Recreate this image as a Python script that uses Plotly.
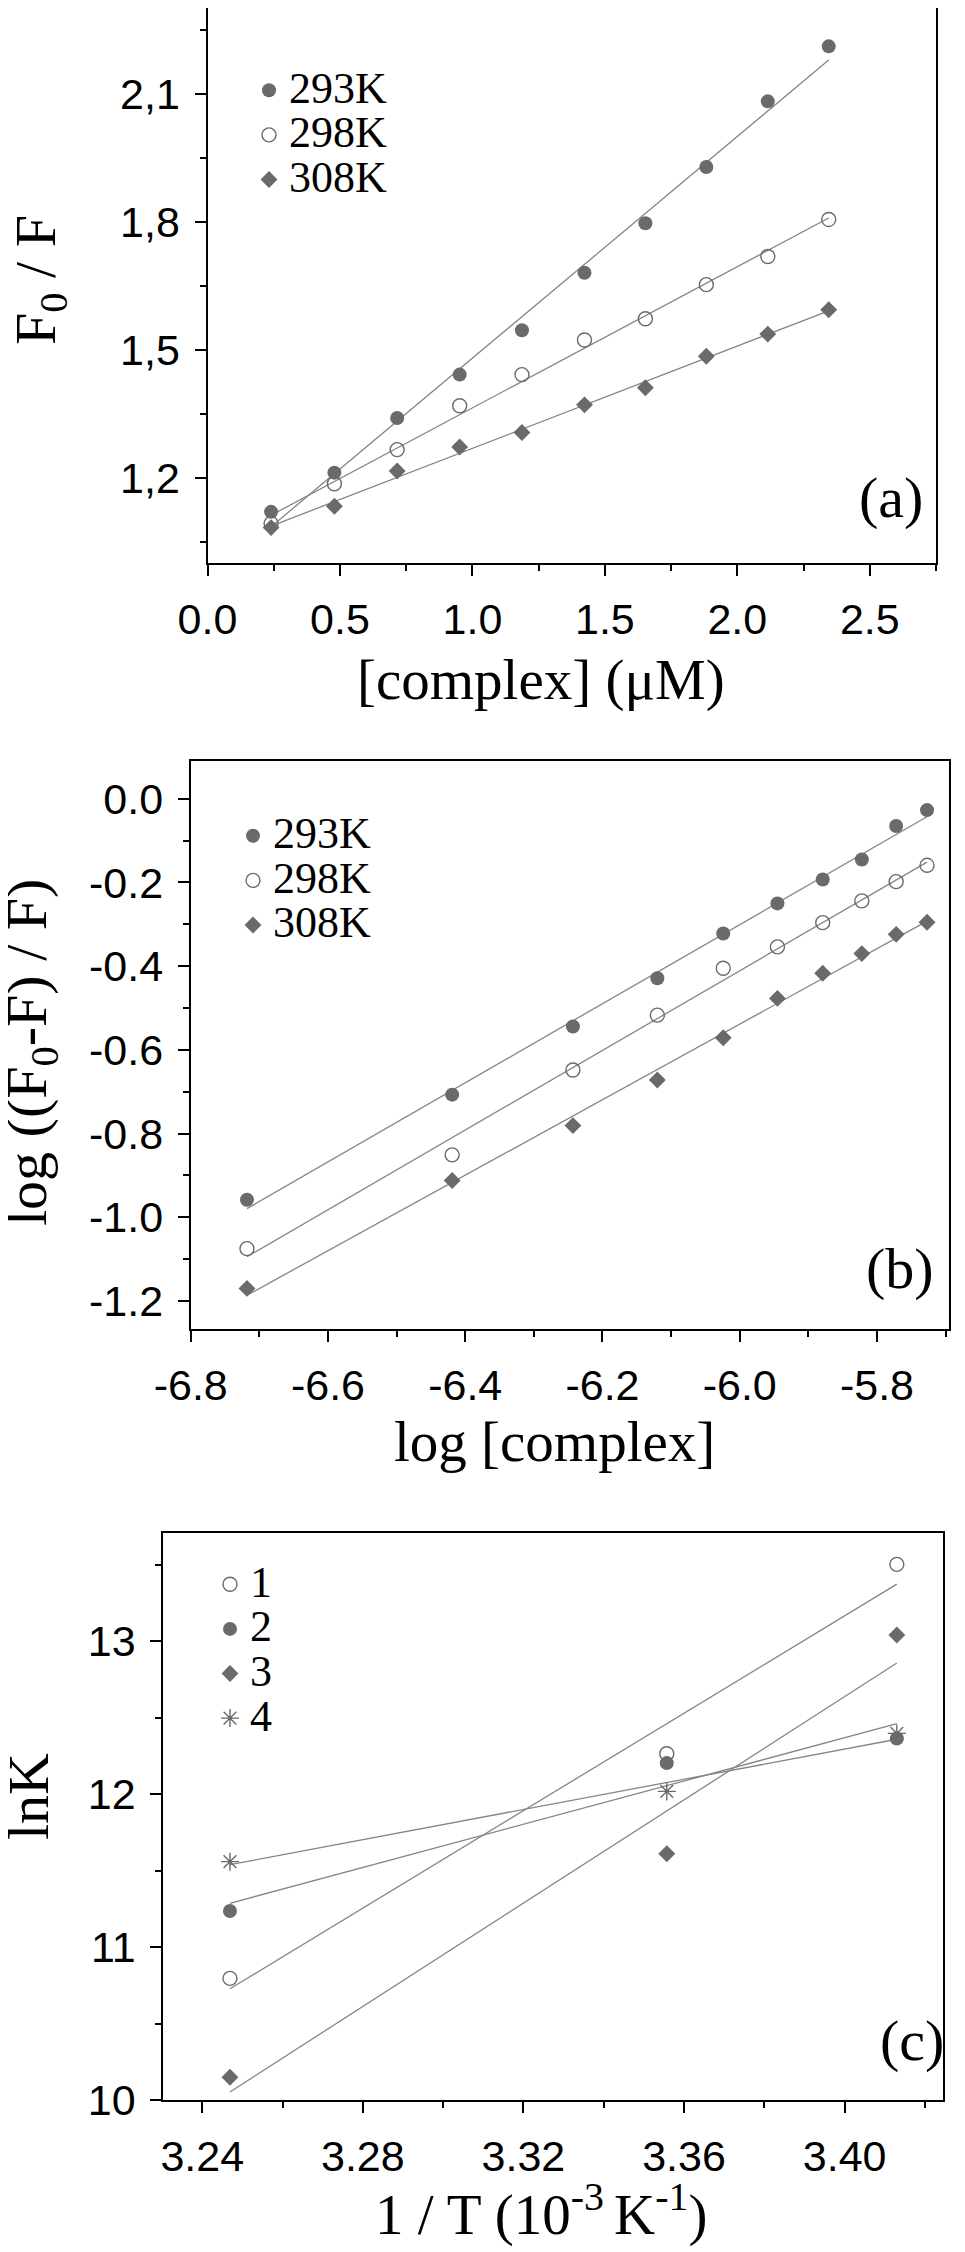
import numpy as np
import plotly.graph_objects as go

# -------------------------------------------------------
# datos
# -------------------------------------------------------
# (a) F0/F frente a [complex] (uM)
conc_a = [0.240, 0.479, 0.716, 0.952, 1.187, 1.423, 1.653, 1.883, 2.115, 2.345]
f0f_293 = [1.120, 1.212, 1.340, 1.442, 1.546, 1.681, 1.797, 1.929, 2.083, 2.212]
f0f_298 = [1.093, 1.186, 1.266, 1.369, 1.442, 1.523, 1.573, 1.653, 1.719, 1.806]
f0f_308 = [1.083, 1.133, 1.216, 1.272, 1.306, 1.371, 1.411, 1.485, 1.537, 1.594]

# (b) log((F0-F)/F) frente a log[complex]
logc_b = [-6.718, -6.419, -6.243, -6.120, -6.024, -5.945, -5.879, -5.822, -5.772, -5.727]
lg_293 = [-0.958, -0.707, -0.544, -0.429, -0.322, -0.250, -0.193, -0.145, -0.065, -0.027]
lg_298 = [-1.075, -0.851, -0.648, -0.517, -0.405, -0.354, -0.296, -0.244, -0.198, -0.159]
lg_308 = [-1.170, -0.912, -0.781, -0.672, -0.571, -0.477, -0.417, -0.370, -0.324, -0.295]

# (c) lnK frente a 1/T
inv_t = [3.2469, 3.3557, 3.4130]
lnk_1 = [10.795, 12.263, 13.501]
lnk_2 = [11.235, 12.202, 12.363]
lnk_3 = [10.149, 11.610, 13.039]
lnk_4 = [11.558, 12.017, 12.396]

temps = ["293K", "298K", "308K"]
complexes = ["1", "2", "3", "4"]

# etiquetas de ejes
a_xvals = [0.0, 0.5, 1.0, 1.5, 2.0, 2.5]
a_xtext = ["0.0", "0.5", "1.0", "1.5", "2.0", "2.5"]
a_yvals = [1.2, 1.5, 1.8, 2.1]
a_ytext = ["1,2", "1,5", "1,8", "2,1"]
b_xvals = [-6.8, -6.6, -6.4, -6.2, -6.0, -5.8]
b_xtext = ["-6.8", "-6.6", "-6.4", "-6.2", "-6.0", "-5.8"]
b_yvals = [0.0, -0.2, -0.4, -0.6, -0.8, -1.0, -1.2]
b_ytext = ["0.0", "-0.2", "-0.4", "-0.6", "-0.8", "-1.0", "-1.2"]
c_xvals = [3.24, 3.28, 3.32, 3.36, 3.40]
c_xtext = ["3.24", "3.28", "3.32", "3.36", "3.40"]
c_yvals = [10, 11, 12, 13]
c_ytext = ["10", "11", "12", "13"]

W, H = 965, 2252
OFF = 8  # margen del <body> de la pagina
GRAY = "#6a6a6a"
LINE = "#858585"
SERIF = "Liberation Serif, Times New Roman, serif"
SANS = "Liberation Sans, Arial, sans-serif"


def px_x(v):
    return (v - OFF) / W


def px_y(v):
    return min(1.0, 1 - (v - OFF) / H)


def fit_line(x, y):
    k, b = np.polyfit(x, y, 1)
    xs = np.array([min(x), max(x)])
    return xs, k * xs + b


styles = {
    "filled": dict(symbol="circle", size=14, color=GRAY, line=dict(width=0)),
    "open": dict(symbol="circle-open", size=14, color=GRAY, line=dict(width=1.4)),
    "diamond": dict(symbol="diamond", size=13, color=GRAY, line=dict(width=0)),
    "star": dict(symbol="asterisk-open", size=15, color=GRAY, line=dict(width=1.4)),
}

fig = go.Figure()


def add_panel(xd, series, names, marks, xa, ya, legend):
    for y in series:
        lx, ly = fit_line(xd, y)
        fig.add_trace(go.Scatter(x=lx, y=ly, mode="lines", xaxis=xa, yaxis=ya,
                                 line=dict(color=LINE, width=1.3), showlegend=False,
                                 hoverinfo="skip"))
    for y, n, m in zip(series, names, marks):
        fig.add_trace(go.Scatter(x=xd, y=y, mode="markers", xaxis=xa, yaxis=ya,
                                 name="<span style='font-size:44px'>" + n + "</span>",
                                 marker=styles[m], legend=legend))


add_panel(conc_a, [f0f_293, f0f_298, f0f_308], temps,
          ["filled", "open", "diamond"], "x", "y", "legend")
add_panel(logc_b, [lg_293, lg_298, lg_308], temps,
          ["filled", "open", "diamond"], "x2", "y2", "legend2")
add_panel(inv_t, [lnk_1, lnk_2, lnk_3, lnk_4], complexes,
          ["open", "filled", "diamond", "star"], "x3", "y3", "legend3")


def axis(domain, rng, vals, text, minor_dtick, minor_tick0, anchor):
    return dict(
        domain=domain, range=rng, anchor=anchor, automargin=False,
        tickmode="array", tickvals=vals, ticktext=text,
        showline=True, mirror=True, linecolor="black", linewidth=2,
        ticks="outside", ticklen=11, tickwidth=2, tickcolor="black",
        ticklabelstandoff=6,
        minor=dict(tickmode="linear", tick0=minor_tick0, dtick=minor_dtick,
                   ticks="outside", ticklen=6, tickwidth=2, tickcolor="black"),
        showgrid=False, zeroline=False,
        tickfont=dict(family=SANS, size=43, color="black"),
    )


layout = dict(
    template="none",
    width=W, height=H,
    margin=dict(l=0, r=0, t=0, b=0, pad=0),
    paper_bgcolor="white", plot_bgcolor="white",
    xaxis=axis([px_x(207.5), px_x(936)], [0, 2.75], a_xvals, a_xtext, 0.25, 0, "y"),
    yaxis=axis([px_y(563), px_y(2)], [1.0, 2.302], a_yvals, a_ytext, 0.15, 1.05, "x"),
    xaxis2=axis([px_x(190.7), px_x(949)], [-6.8, -5.695], b_xvals, b_xtext, 0.1, -6.8, "y2"),
    yaxis2=axis([px_y(1329), px_y(760.7)], [-1.267, 0.091], b_yvals, b_ytext, 0.1, 0, "x2"),
    xaxis3=axis([px_x(163.3), px_x(943)], [3.2303, 3.4245], c_xvals, c_xtext, 0.02, 3.24, "y3"),
    yaxis3=axis([px_y(2100), px_y(1533)], [10, 13.706], c_yvals, c_ytext, 0.5, 10, "x3"),
    showlegend=True,
)

for key, mx, top in [("legend", 269, 90), ("legend2", 253, 835.5), ("legend3", 230, 1584)]:
    layout[key] = dict(x=px_x(mx - 20), y=px_y(top - 27), xanchor="left", yanchor="top",
                       bgcolor="rgba(0,0,0,0)", borderwidth=0, tracegroupgap=0,
                       font=dict(family=SERIF, size=32, color="black"),
                       itemsizing="trace")

fig.update_layout(**layout)

# titulos de ejes y etiquetas de panel
notes = [
    ("[complex] (\u03bcM)", 541, 680, 0, 57),
    ("F<sub>0</sub> / F", 39, 280, -90, 58),
    ("(a)", 891, 498, 0, 58),
    ("log [complex]", 554, 1441, 0, 57),
    ("log ((F<sub>0</sub>-F) / F)", 31, 1053, -90, 58),
    ("(b)", 900, 1268, 0, 58),
    ("1 / T (10<sup>-3 </sup>K<sup>-1</sup>)", 541, 2210, 0, 57),
    ("lnK", 28, 1797, -90, 58),
    ("(c)", 912, 2041, 0, 58),
]
for txt, x, y, ang, size in notes:
    fig.add_annotation(text=txt, x=px_x(x), y=px_y(y), xref="paper", yref="paper",
                       xanchor="center", yanchor="middle", textangle=ang,
                       showarrow=False, font=dict(family=SERIF, size=size, color="black"))

fig.write_html("out.html")
